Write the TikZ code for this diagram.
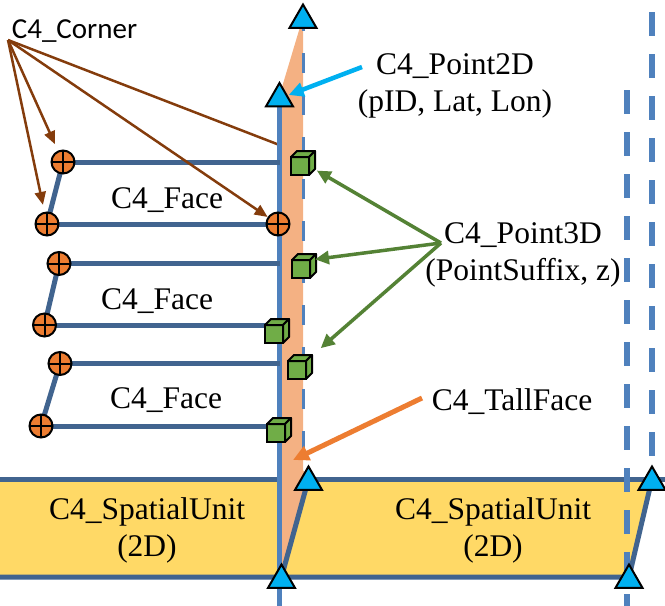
\documentclass[tikz,border=0pt]{standalone}
\usepackage{fontspec}
\setmainfont{Liberation Serif}
\newfontfamily\labelfont{Liberation Serif}
\newfontfamily\cornerfont{Carlito}
\usetikzlibrary{arrows.meta,shapes.geometric,calc}
\pgfdeclarelayer{back}
\pgfsetlayers{back,main}

\definecolor{mainblue}{HTML}{4F81BD}
\definecolor{faceblue}{HTML}{41648F}
\definecolor{tallfill}{HTML}{F4B183}
\definecolor{unitfill}{HTML}{FFD966}
\definecolor{vtxcyan}{HTML}{00B0F0}
\definecolor{cornerorange}{HTML}{ED7D31}
\definecolor{cubegreen}{HTML}{70AD47}
\definecolor{arrowgreen}{HTML}{548235}
\definecolor{arrowbrown}{HTML}{843C0C}

\tikzset{
  lbl/.style={font=\labelfont\fontsize{31.5}{37}\selectfont, align=center, inner sep=0pt, text=black},
  facebar/.style={draw=faceblue, line width=5pt},
  unitborder/.style={draw=faceblue, line width=5pt},
  mainline/.style={draw=mainblue, line width=5.5pt},
  thindash/.style={draw=mainblue, line width=3pt, dash pattern=on 20pt off 22pt},
  thickdash/.style={draw=mainblue, line width=5.5pt, dash pattern=on 24pt off 18pt},
  cornerpt/.style={circle, minimum size=23pt, inner sep=0pt, outer sep=0pt,
    fill=cornerorange, draw=black, line width=2pt,
    path picture={\draw[black, line width=2pt]
      (path picture bounding box.north) -- (path picture bounding box.south)
      (path picture bounding box.west) -- (path picture bounding box.east);}},
  vtx/.style={regular polygon, regular polygon sides=3, minimum size=31pt,
    inner sep=0pt, outer sep=0pt, fill=vtxcyan, draw=black, line width=2pt,
    yshift=-3pt},
  cubefront/.style={rectangle, minimum size=18pt, inner sep=0pt, outer sep=0pt,
    fill=cubegreen, draw=black, line width=2pt},
  cubeside/.style={fill=cubegreen, draw=black, line width=2pt, line join=round},
  pics/cube/.style={code={
    \node[cubefront] (-f) at (0,0) {};
    \filldraw[cubeside] (-f.north west) -- ++(6,-6) -- ++(18,0) -- (-f.north east) -- cycle;
    \filldraw[cubeside] (-f.north east) -- ++(6,-6) -- ++(0,18) -- (-f.south east) -- cycle;
  }},
  brownarrow/.style={draw=arrowbrown, line width=2.5pt, -{Triangle[length=13pt, width=11pt]}},
  cornerline/.style={draw=arrowbrown, line width=2.5pt},
  greenarrow/.style={draw=arrowgreen, line width=3.5pt, -{Triangle[length=14pt, width=13pt]}},
  cyanarrow/.style={draw=vtxcyan, line width=4.5pt, -{Triangle[length=15pt, width=14pt]}},
  orangearrow/.style={draw=cornerorange, line width=5pt, -{Triangle[length=16pt, width=15pt]}},
}

\begin{document}
\begin{tikzpicture}[x=1pt, y=-1pt]
\useasboundingbox (0,0) rectangle (665,606);

% vertices of the tall face and of the two spatial units
\coordinate (v1) at (303,17);
\coordinate (v2) at (279.5,95.5);
\coordinate (v3) at (281.5,577);
\coordinate (v4) at (308.5,479);
\coordinate (v5) at (629,577);
\coordinate (v6) at (652,479);
\coordinate (mbot) at (279.5,606);

% corners of the three faces
\node[cornerpt] (k1) at (63,162) {};
\node[cornerpt] (k2) at (47,224) {};
\node[cornerpt] (k3) at (278,224) {};
\node[cornerpt] (k4) at (59,263.5) {};
\node[cornerpt] (k5) at (44.5,325) {};
\node[cornerpt] (k6) at (60,363.5) {};
\node[cornerpt] (k7) at (41,426) {};

% 3D points along the tall face
\pic (c1) at (300,166) {cube};
\pic (c2) at (301,269) {cube};
\pic (c3) at (274,334) {cube};
\pic (c4) at (297,370) {cube};
\pic (c5) at (276,433) {cube};

% 2D points
\node[vtx] (t1) at (v1) {};
\node[vtx] (t2) at (v2) {};
\node[vtx] (t3) at (v3) {};
\node[vtx] (t4) at (v4) {};
\node[vtx] (t5) at (v5) {};
\node[vtx] (t6) at (v6) {};

\coordinate (csrc) at (8,40);
\coordinate (chid) at (279.5,145);

\begin{pgfonlayer}{back}
  % spatial units
  \fill[unitfill] (0,479) rectangle (279.5,577);
  \fill[unitfill] (v3) -- (v4) -- (v6) -- (v5) -- cycle;
  % tall face
  \fill[tallfill] (v2) -- (v1) -- (303,470) -- (v4) -- (v3) -- (279.5,577) -- cycle;
  % unit borders
  \draw[unitborder] (0,479) -- (279.5,479);
  \draw[unitborder] (v4) -- (665,479);
  \draw[unitborder] (0,577) -- (v5) -- (v6);
  \draw[unitborder] (v3) -- (v4);
  % vertical guides
  \draw[thindash] (303,11) -- (303,470);
  \draw[thickdash] (627,90) -- (627,606);
  \draw[thickdash] (652,12) -- (v6);
  % corner pointer hidden behind the main edge
  \draw[cornerline] (csrc) -- (chid);
  % main vertical edge
  \draw[mainline] (v2) -- (mbot);
  % faces
  \draw[facebar] (k1.center) -- (k1 -| mbot);
  \draw[facebar] (k2.center) -- (k3.center);
  \draw[facebar] (k1.center) -- (k2.center);
  \draw[facebar] (k4.center) -- (k4 -| mbot);
  \draw[facebar] (k5.center) -- (k5 -| mbot);
  \draw[facebar] (k4.center) -- (k5.center);
  \draw[facebar] (k6.center) -- (k6 -| mbot);
  \draw[facebar] (k7.center) -- (k7 -| mbot);
  \draw[facebar] (k6.center) -- (k7.center);
\end{pgfonlayer}

% labels
\node[lbl, font=\cornerfont\fontsize{29}{34}\selectfont, anchor=base] (lc) at (74.5,38) {C4\_Corner};
\node[lbl, anchor=base] (lf1) at (167,208) {C4\_Face};
\node[lbl, anchor=base] (lf2) at (157,309) {C4\_Face};
\node[lbl, anchor=base] (lf3) at (166,408) {C4\_Face};
\node[lbl, anchor=base] (ltf) at (512,410) {C4\_TallFace};
\node[lbl] (lp2) at (455,86) {C4\_Point2D\\(pID, Lat, Lon)};
\node[lbl] (lp3) at (523,255) {C4\_Point3D\\(PointSuffix, z)};
\node[lbl] (lsu1) at (147,530) {C4\_SpatialUnit\\(2D)};
\node[lbl] (lsu2) at (493,530) {C4\_SpatialUnit\\(2D)};

% pointers
\draw[brownarrow, shorten >=8pt] (csrc) -- (k1);
\draw[brownarrow, shorten >=8pt] (csrc) -- (k2);
\draw[brownarrow, shorten >=1pt] (csrc) -- (k3);

\coordinate (p2tail) at (362,67);
\draw[cyanarrow, shorten >=2pt] (p2tail) -- (t2);

\coordinate (p3tail) at (441,243);
\draw[greenarrow, shorten >=9pt] (p3tail) -- (c1-f.east);
\draw[greenarrow, shorten >=5pt] (p3tail) -- (c2-f.north east);
\draw[greenarrow, shorten >=19.5pt] (p3tail) -- (c4-f.north east);

\coordinate (tftail) at (422,398);
\coordinate (tftip) at (293,460);
\draw[orangearrow] (tftail) -- (tftip);
\end{tikzpicture}
\end{document}
